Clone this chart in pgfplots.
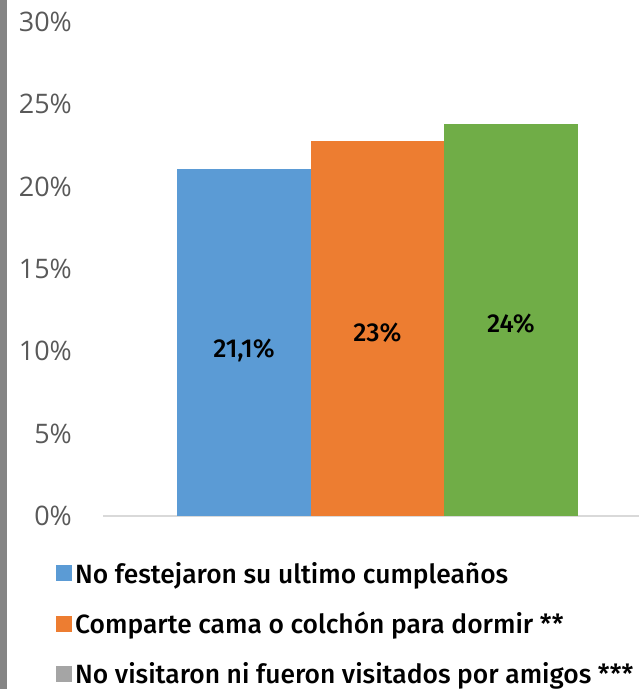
\documentclass[border=0pt]{standalone}
\usepackage{pgfplots}
\pgfplotsset{compat=1.18}
\usepackage{fontspec}
\setmainfont{Fira Sans}
\newfontfamily\medfont{Fira Sans Medium}
\newfontfamily\tickfont{Open Sans}
\definecolor{cblue}{HTML}{5B9BD5}
\definecolor{corange}{HTML}{ED7D31}
\definecolor{cgreen}{HTML}{70AD47}
\definecolor{cgray}{HTML}{A5A5A5}
\definecolor{cline}{HTML}{D9D9D9}
\definecolor{ctick}{HTML}{595959}
\definecolor{cstrip}{HTML}{858585}
\begin{document}
\begin{tikzpicture}[x=1bp,y=1bp]
\path[use as bounding box] (0,0) rectangle (639,689);
\fill[cstrip] (0,0) rectangle (7,689);
\begin{axis}[
  at={(103bp,173bp)}, anchor=south west,
  scale only axis, width=536bp, height=494bp,
  xmin=-1.056, xmax=2.96, ymin=0, ymax=30,
  axis x line*=bottom, axis y line*=left,
  y axis line style={draw=none},
  x axis line style={draw=cline, line width=2bp},
  xtick=\empty,
  ytick={0,5,10,15,20,25,30},
  major tick length=0pt,
  /pgf/number format/assume math mode=true,
  yticklabel={\pgfmathprintnumber{\tick}\%},
  yticklabel style={font=\tickfont\fontsize{27}{30}\selectfont, text=ctick, anchor=east, inner sep=0pt, xshift=-31bp},
  clip=false,
  visualization depends on=rawy \as \rawy,
  every node near coord/.append style={font=\medfont\fontsize{26}{28}\selectfont, text=black, anchor=center, shift={(axis direction cs:0,-\rawy/2)}},
  legend image code/.code={\fill[#1,draw=none] (0bp,-8bp) rectangle (16bp,8bp);},
  legend cell align=left,
  legend style={at={(axis description cs:-0.0877,-0.093)}, anchor=north west, draw=none, fill=none, inner sep=0pt,
    font=\medfont\fontsize{26.5}{30}\selectfont, row sep=27.5bp,
    nodes={inner xsep=3bp, inner ysep=0pt}},
]
\addplot[ybar, bar width=1, bar shift=0pt, fill=cblue, draw=none, nodes near coords={21,1\%},
  every node near coord/.append style={yshift=-8bp}] coordinates {(0,21.1)};
\addlegendentry{No festejaron su ultimo cumpleaños}
\addplot[ybar, bar width=1, bar shift=0pt, fill=corange, draw=none, nodes near coords={23\%},
  every node near coord/.append style={yshift=-4bp}] coordinates {(1,22.8)};
\addlegendentry{Comparte cama o colchón para dormir **}
\addplot[ybar, bar width=1, bar shift=0pt, fill=cgreen, draw=none, forget plot, nodes near coords={24\%},
  every node near coord/.append style={yshift=-4bp}] coordinates {(2,23.8)};
\addlegendimage{fill=cgray, draw=none}
\addlegendentry{No visitaron ni fueron visitados por amigos ***}
\end{axis}
\end{tikzpicture}
\end{document}
